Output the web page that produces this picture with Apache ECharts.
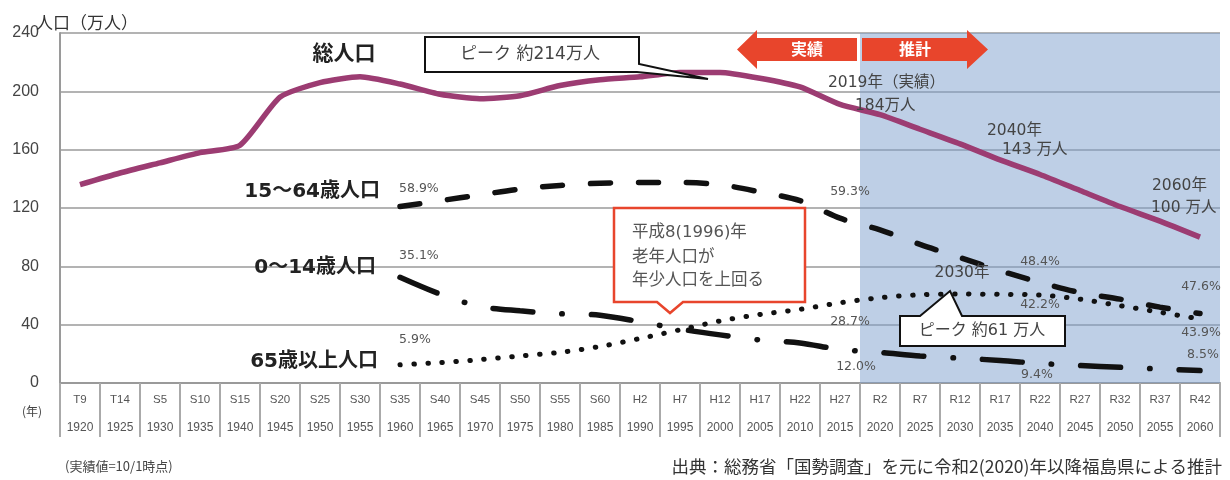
<!DOCTYPE html>
<html><head><meta charset="utf-8">
<script src="https://cdn.jsdelivr.net/npm/echarts@6/dist/echarts.min.js"></script>
<style>html,body{margin:0;padding:0;background:#fff}#c{width:1230px;height:480px}</style>
</head><body><div id="c"></div>
<script>
const years = [1920,1925,1930,1935,1940,1945,1950,1955,1960,1965,1970,1975,1980,1985,1990,1995,2000,2005,2010,2015,2020,2025,2030,2035,2040,2045,2050,2055,2060];
const eras = ['T9','T14','S5','S10','S15','S20','S25','S30','S35','S40','S45','S50','S55','S60','H2','H7','H12','H17','H22','H27','R2','R7','R12','R17','R22','R27','R32','R37','R42'];
const total = [136,144,151,158,163,196,206,210,205,198,195,197,204,208,210,213,213,209,203,191,184,174,164,153,143,132,121,111,100];
const age15to64 = [null,null,null,null,null,null,null,null,121,125,129,133,135.5,137,137.5,137.5,136,131,125,113,105,95,86,77,69,62,57.5,52,47.6];
const age0to14 = [null,null,null,null,null,null,null,null,72.5,61,52.5,49.5,47.5,46.5,42,37,33,29.5,27.5,23,21,18.5,17,15.5,13.4,12,10.8,9.6,8.5];
const age65plus = [null,null,null,null,null,null,null,null,12.5,14,16,18.5,21,25,30.5,36.5,42.5,47,50.5,55,58.5,60.5,61,60.8,60.3,57.5,53,48.5,43.9];
const yTicks = {min:0, max:240, interval:40};
const forecastStart = 2017.5;

const pairs = v => years.map((y,i)=>[y, v[i]]).filter(p=>p[1]!=null);
const JP = '"Noto Sans CJK JP","Noto Sans",sans-serif';
const DJ = '"DejaVu Sans","Noto Sans CJK JP",sans-serif';
const txt = (text, x, y, size, opts={}) => ({
  type:'text', x, y, z:50,
  style:{text, font:(opts.weight||'normal')+' '+size+'px '+(opts.family||JP), fill:opts.color||'#444',
    align:opts.align||'left', textAlign:opts.align||'left', verticalAlign:'middle', textVerticalAlign:'middle'}
});
const pct = (text, x, y, align) => txt(text, x, y, 12.5, {color:'#555', family:DJ, align:align||'center'});
const note = (text, x, y) => txt(text, x, y, 15.5, {color:'#444', family:DJ});

const chart = echarts.init(document.getElementById('c'));
chart.setOption({
  animation:false,
  grid:{left:60, right:10, top:33, bottom:97},
  xAxis:[
    {type:'value', min:1917.5, max:2062.5, show:false},
    {type:'category', data:eras.map((e,i)=>e+'|'+years[i]), position:'bottom', boundaryGap:true,
     axisLine:{show:true, lineStyle:{color:'#9a9a9a', width:2}},
     axisTick:{show:true, interval:0, length:54, lineStyle:{color:'#aaa', width:2}},
     splitLine:{show:false},
     axisLabel:{interval:0, margin:3, formatter:v=>{const p=v.split('|');return '{e|'+p[0]+'}\n{y|'+p[1]+'}';},
       rich:{e:{fontSize:11.5, lineHeight:28, color:'#555', fontFamily:'"Liberation Sans",sans-serif'},
             y:{fontSize:12, lineHeight:28, color:'#555', fontFamily:'"Liberation Sans",sans-serif'}}}}
  ],
  yAxis:{type:'value', min:yTicks.min, max:yTicks.max, interval:yTicks.interval,
    axisLine:{show:true, lineStyle:{color:'#9a9a9a', width:2}},
    axisTick:{show:false},
    splitLine:{lineStyle:{color:'#9a9a9a', width:1.5}},
    axisLabel:{fontSize:16, color:'#444', margin:21, fontFamily:'"Liberation Sans",sans-serif'}},
  series:[
    {type:'line', xAxisIndex:0, data:pairs(total), symbol:'none', silent:true, z:1,
     lineStyle:{opacity:0},
     markArea:{silent:true, itemStyle:{color:'rgba(125,160,205,0.5)'}, data:[[{xAxis:forecastStart},{xAxis:2062.5}]]}},
    {name:'総人口', type:'line', xAxisIndex:0, data:pairs(total), symbol:'none', smooth:0.2, z:3,
     lineStyle:{color:'#9c3c72', width:5.5}},
    {name:'15~64歳人口', type:'line', xAxisIndex:0, data:pairs(age15to64), symbol:'none', smooth:0.3, z:3,
     lineStyle:{color:'#111', width:5.5, type:[20,28], cap:'round'}},
    {name:'0~14歳人口', type:'line', xAxisIndex:0, data:pairs(age0to14), symbol:'none', smooth:0.3, z:3,
     lineStyle:{color:'#111', width:5.5, type:[40,29,0.5,29], cap:'round'}},
    {name:'65歳以上人口', type:'line', xAxisIndex:0, data:pairs(age65plus), symbol:'none', smooth:0.3, z:3,
     lineStyle:{color:'#111', width:5, type:[0.5,13.5], cap:'round'}}
  ],
  graphic:[
    txt('人口（万人）', 36, 23, 17, {color:'#333'}),
    txt('(年)', 22, 411, 12, {color:'#444'}),
    txt('総人口', 344, 52, 21, {weight:'bold', color:'#222', align:'center'}),
    txt('15～64歳人口', 380, 192, 20, {weight:'bold', color:'#222', align:'right', family:DJ}),
    txt('0～14歳人口', 376, 268, 20, {weight:'bold', color:'#222', align:'right', family:DJ}),
    txt('65歳以上人口', 378, 362, 20, {weight:'bold', color:'#222', align:'right', family:DJ}),
    pct('58.9%', 399, 189, 'left'),
    pct('35.1%', 399, 256, 'left'),
    pct('5.9%', 399, 340, 'left'),
    pct('59.3%', 850, 192),
    pct('28.7%', 850, 322),
    pct('12.0%', 856, 367),
    pct('48.4%', 1040, 262),
    pct('42.2%', 1040, 305),
    pct('9.4%', 1037, 375),
    pct('47.6%', 1201, 287),
    pct('43.9%', 1201, 333),
    pct('8.5%', 1203, 355),
    txt('2030年', 962, 273, 15.5, {color:'#444', align:'center', family:DJ}),
    note('2019年（実績）', 828, 83),
    note('184万人', 855, 106),
    note('2040年', 987, 131),
    note('143 万人', 1002, 150),
    note('2060年', 1152, 186),
    note('100 万人', 1151, 208),
    {type:'polygon', z:40, shape:{points:[[425,37],[639,37],[639,64],[708,79],[637,72],[425,72]]},
     style:{fill:'#fff', stroke:'#111', lineWidth:2}},
    txt('ピーク 約214万人', 530, 55, 17, {color:'#444', align:'center', family:DJ}),
    {type:'polygon', z:40, shape:{points:[[900,316],[920,316],[950,291],[962,316],[1065,316],[1065,346],[900,346]]},
     style:{fill:'#fff', stroke:'#111', lineWidth:2}},
    txt('ピーク 約61 万人', 982, 331, 16, {color:'#444', align:'center', family:DJ}),
    {type:'polygon', z:40, shape:{points:[[614,208],[805,208],[805,302],[683,302],[670,313],[657,302],[614,302]]},
     style:{fill:'#fff', stroke:'#e8452c', lineWidth:2.5}},
    txt('平成8(1996)年', 632, 233, 16.5, {color:'#555', family:DJ}),
    txt('老年人口が', 632, 256, 16.5, {color:'#555'}),
    txt('年少人口を上回る', 632, 279, 16.5, {color:'#555'}),
    {type:'polygon', z:40, shape:{points:[[737,49.5],[757,30],[757,38],[857,38],[857,61],[757,61],[757,69]]},
     style:{fill:'#e8452c'}},
    {type:'polygon', z:40, shape:{points:[[862,38],[967,38],[967,30],[988,49.5],[967,69],[967,61],[862,61]]},
     style:{fill:'#e8452c'}},
    txt('実績', 807, 49, 16, {weight:'bold', color:'#fff', align:'center'}),
    txt('推計', 915, 49, 16, {weight:'bold', color:'#fff', align:'center'}),
    txt('(実績値=10/1時点)', 65, 466, 13, {color:'#444'}),
    txt('出典：総務省「国勢調査」を元に令和2(2020)年以降福島県による推計', 1222, 466, 17.5, {color:'#333', align:'right'})
  ]
});
</script></body></html>
